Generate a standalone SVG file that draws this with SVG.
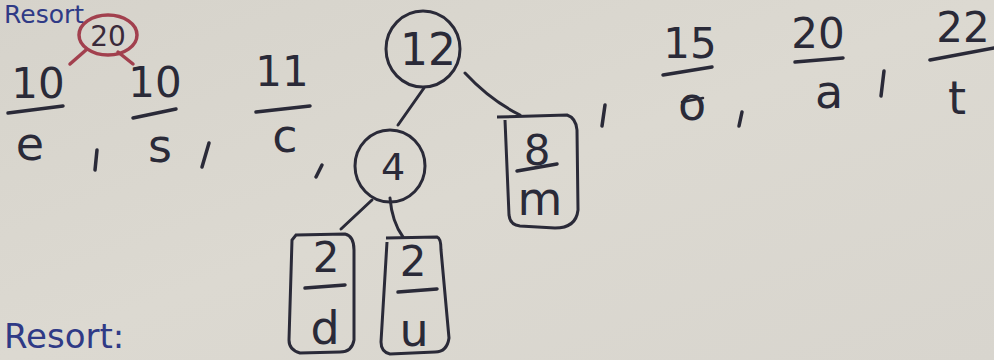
<svg xmlns="http://www.w3.org/2000/svg" width="994" height="360" viewBox="0 0 994 360">
<defs>
<linearGradient id="paper" x1="0" y1="0" x2="1" y2="1">
<stop offset="0" stop-color="#d6d3cb"/>
<stop offset="0.5" stop-color="#dcd9d1"/>
<stop offset="1" stop-color="#d8d5ce"/>
</linearGradient>
</defs>
<style>
.ink{fill:#2a2a38;font-family:"DejaVu Sans","Liberation Sans",sans-serif;}
.num{font-size:42px;text-anchor:middle;}
.let{font-size:46px;text-anchor:middle;}
.bar{stroke:#2a2a38;stroke-width:3.5;stroke-linecap:round;fill:none;}
.shape{stroke:#2a2a38;stroke-width:3;fill:none;}
.conn{stroke:#2a2a38;stroke-width:3;stroke-linecap:round;fill:none;}
.red{stroke:#a2404e;stroke-width:3.5;fill:none;stroke-linecap:round;}
.blue{fill:#2f3a86;font-family:"DejaVu Sans","Liberation Sans",sans-serif;}
.comma{stroke:#2a2a38;stroke-width:3.5;stroke-linecap:round;fill:none;}
</style>
<rect width="994" height="360" fill="url(#paper)"/>

<text class="blue" x="4" y="23" font-size="25">Resort</text>
<text class="blue" x="4" y="348" font-size="34">Resort:</text>

<g id="connectors">
<path class="red" d="M86 50 L70 64"/>
<path class="red" d="M118 52 L133 64"/>
<path class="conn" d="M424 88 L398 125"/>
<path class="conn" d="M465 73 Q490 100 520 115"/>
<path class="conn" d="M372 200 L341 229"/>
<path class="conn" d="M390 198 Q392 222 403 237"/>
</g>

<g id="node-20">
<ellipse class="red" cx="108" cy="35" rx="29" ry="20"/>
<text x="108" y="46" fill="#3a2a3a" font-family="DejaVu Sans, sans-serif" font-size="28" text-anchor="middle">20</text>
</g>

<g id="leaf-e">
<text class="ink num" x="38" y="98">10</text>
<path class="bar" d="M8 113 L63 106"/>
<text class="ink let" x="30" y="160">e</text>
</g>
<path class="comma" d="M97 150 L95 170"/>

<g id="leaf-s">
<text class="ink num" x="155" y="97">10</text>
<path class="bar" d="M133 118 L176 109"/>
<text class="ink let" x="160" y="162">s</text>
</g>
<path class="comma" d="M209 143 L202 167"/>

<g id="leaf-c">
<text class="ink num" x="282" y="86">11</text>
<path class="bar" d="M256 112 L310 106"/>
<text class="ink let" x="285" y="152">c</text>
</g>
<path class="comma" d="M322 165 L316 177"/>

<g id="node-12">
<ellipse class="shape" cx="423" cy="49" rx="37" ry="38"/>
<text class="ink" x="428" y="65" font-size="44" text-anchor="middle">12</text>
</g>

<g id="node-4">
<ellipse class="shape" cx="390" cy="166" rx="35" ry="36"/>
<text class="ink" x="393" y="180" font-size="38" text-anchor="middle">4</text>
</g>

<g id="leaf-m">
<path class="shape" d="M497 117 L567 115 Q576 118 577 130 L578 210 Q576 228 555 228 L520 226 Q510 225 509 215 L505 120"/>
<text class="ink num" x="537" y="165" font-size="40">8</text>
<path class="bar" d="M517 171 L557 164"/>
<text class="ink let" x="540" y="215">m</text>
</g>

<g id="leaf-d">
<path class="shape" d="M296 235 L345 234 Q354 236 354 250 L354 340 Q352 352 340 352 L300 353 Q289 350 289 340 L292 240 Z"/>
<text class="ink num" x="326" y="272" font-size="36">2</text>
<path class="bar" d="M305 288 L345 285"/>
<text class="ink let" x="325" y="344" font-size="44">d</text>
</g>

<g id="leaf-u">
<path class="shape" d="M386 238 L437 237 Q441 238 441 250 L449 338 Q447 352 435 352 L390 354 Q381 352 381 342 L387 242"/>
<text class="ink num" x="413" y="276" font-size="36">2</text>
<path class="bar" d="M398 292 L437 289"/>
<text class="ink let" x="414" y="346" font-size="44">u</text>
</g>
<path class="comma" d="M605 105 L602 126"/>

<g id="leaf-o">
<text class="ink num" x="690" y="58">15</text>
<path class="bar" d="M663 75 L712 67"/>
<text class="ink let" x="692" y="120" font-size="40">o</text>
<path class="bar" d="M682 102 L703 98" style="stroke-width:2.5"/>
</g>
<path class="comma" d="M742 112 L739 126"/>

<g id="leaf-a">
<text class="ink num" x="818" y="48">20</text>
<path class="bar" d="M795 62 L843 58"/>
<text class="ink let" x="829" y="108" font-size="40">a</text>
</g>
<path class="comma" d="M884 71 L881 96"/>

<g id="leaf-t">
<text class="ink num" x="963" y="42">22</text>
<path class="bar" d="M930 60 L994 48"/>
<text class="ink let" x="957" y="114" font-size="46">t</text>
</g>
</svg>
